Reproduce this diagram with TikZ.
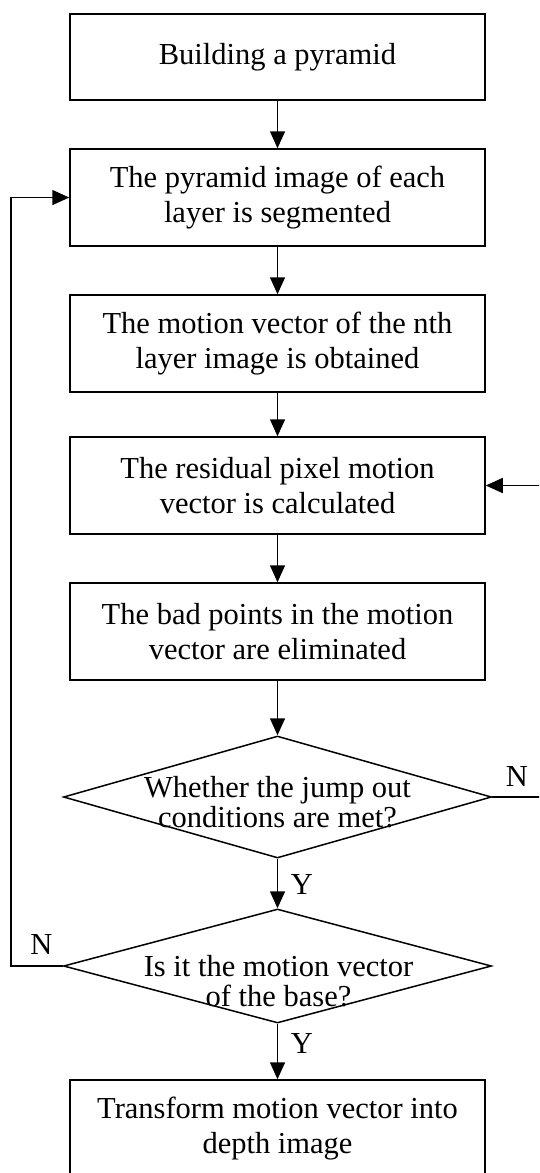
\documentclass[tikz,border=0pt]{standalone}
\usepackage{fontspec}
\setmainfont{Liberation Serif}
\usetikzlibrary{shapes.geometric,arrows.meta}
\begin{document}
\begin{tikzpicture}[x=1pt,y=-1pt,
  box/.style={draw, line width=1.5pt, minimum width=415pt, minimum height=97pt, inner sep=0pt, align=center, font=\fontsize{30.5}{35}\selectfont},
  dec/.style={draw, diamond, line width=1.5pt, minimum width=428pt, minimum height=120pt, inner sep=0pt},
  txt/.style={align=center, inner sep=0pt, font=\fontsize{30.5}{29.5}\selectfont},
  lbl/.style={inner sep=0pt, font=\fontsize{30.5}{36}\selectfont},
  arr/.style={line width=1.5pt, -{Triangle[length=17pt,width=15pt]}},
  ln/.style={line width=1.5pt}]
\useasboundingbox (0,0) rectangle (539,1173);
\clip (0,0) rectangle (539,1173);
\node[box, minimum height=86pt] (b1) at (277.5,57) {Building a pyramid};
\node[box] (b2) at (277.5,197.5) {The pyramid image of each\\layer is segmented};
\node[box] (b3) at (277.5,343.5) {The motion vector of the nth\\layer image is obtained};
\node[box] (b4) at (277.5,485.5) {The residual pixel motion\\vector is calculated};
\node[box] (b5) at (277.5,631.5) {The bad points in the motion\\vector are eliminated};
\node[dec, minimum height=122pt] (d1) at (277.5,797) {};
\node[txt] (t1) at (277.5,802) {Whether the jump out\\conditions are met?};
\node[dec, minimum height=114pt] (d2) at (277.5,966) {};
\node[txt] (t2) at (278.5,981) {Is it the motion vector\\of the base?};
\node[box] (b6) at (277.5,1128.5) {Transform motion vector into\\depth image};
\coordinate (r1) at (541,797);
\coordinate (l1) at (11,966);
\draw[arr] (b1) -- (b2);
\draw[arr] (b2) -- (b3);
\draw[arr] (b3) -- (b4);
\draw[arr] (b4) -- (b5);
\draw[arr] (b5) -- (d1);
\draw[arr] (d1) -- (d2);
\draw[arr] (d2) -- (b6);
\draw[arr] (d1.east) -- (r1) |- (b4.east);
\draw[arr] (d2.west) -- (l1) |- (b2.west);
\node[lbl] (y1) at (302,885) {Y};
\node[lbl] (y2) at (302,1044) {Y};
\node[lbl] (n1) at (517,777) {N};
\node[lbl] (n2) at (41.5,945) {N};
\end{tikzpicture}
\end{document}
